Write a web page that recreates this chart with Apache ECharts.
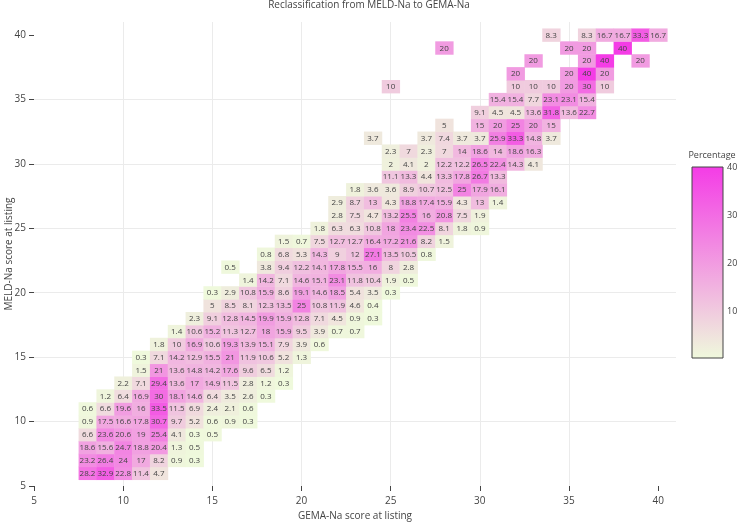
<!DOCTYPE html>
<html>
<head>
<meta charset="utf-8">
<script src="https://cdn.jsdelivr.net/npm/echarts@6/dist/echarts.min.js"></script>
<style>html,body{margin:0;padding:0;background:#fff}#c{width:738px;height:522px}</style>
</head>
<body>
<div id="c"></div>
<script>
// MELD-Na score at listing (rows)
const meldLevels = [6,7,8,9,10,11,12,13,14,15,16,17,18,19,20,21,22,23,24,25,26,27,28,29,30,31,32,33,34,35,36,37,38,39,40];
// GEMA-Na score of the first cell in each row
const firstGema = [8,8,8,8,8,8,9,10,11,11,12,13,14,15,15,17,16,18,19,21,22,22,23,25,25,25,24,28,30,31,25,32,33,28,34];
// Percentages, consecutive GEMA-Na scores from firstGema (null = empty cell)
const pctRows = [
  [28.2,32.9,22.8,11.4,4.7],
  [23.2,26.4,24,17,8.2,0.9,0.3],
  [18.6,15.6,24.7,18.8,20.4,1.3,0.5],
  [6.6,23.6,20.6,19,25.4,4.1,0.3,0.5],
  [0.9,17.5,16.6,17.8,30.7,9.7,5.2,0.6,0.9,0.3],
  [0.6,6.6,19.6,16,33.5,11.5,6.9,2.4,2.1,0.6],
  [1.2,6.4,16.9,30,18.1,14.6,6.4,3.5,2.6,0.3],
  [2.2,7.1,29.4,13.6,17,14.9,11.5,2.8,1.2,0.3],
  [1.5,21,13.6,14.8,14.2,17.6,9.6,6.5,1.2],
  [0.3,7.1,14.2,12.9,15.5,21,11.9,10.6,5.2,1.3],
  [1.8,10,16.9,10.6,19.3,13.9,15.1,7.9,3.9,0.6],
  [1.4,10.6,15.2,11.3,12.7,18,15.9,9.5,3.9,0.7,0.7],
  [2.3,9.1,12.8,14.5,19.9,15.9,12.8,7.1,4.5,0.9,0.3],
  [5,8.5,8.1,12.3,13.5,25,10.8,11.9,4.6,0.4],
  [0.3,2.9,10.8,15.9,8.6,19.1,14.6,18.5,5.4,3.5,0.3],
  [1.4,14.2,7.1,14.6,15.1,23.1,11.8,10.4,1.9,0.5],
  [0.5,null,3.8,9.4,12.2,14.1,17.8,15.5,16,8,2.8],
  [0.8,6.8,5.3,14.3,9,12,27.1,13.5,10.5,0.8],
  [1.5,0.7,7.5,12.7,12.7,16.4,17.2,21.6,8.2,1.5],
  [1.8,6.3,6.3,10.8,18,23.4,22.5,8.1,1.8,0.9],
  [2.8,7.5,4.7,13.2,25.5,16,20.8,7.5,1.9],
  [2.9,8.7,13,4.3,18.8,17.4,15.9,4.3,13,1.4],
  [1.8,3.6,3.6,8.9,10.7,12.5,25,17.9,16.1],
  [11.1,13.3,4.4,13.3,17.8,26.7,13.3],
  [2,4.1,2,12.2,12.2,26.5,22.4,14.3,4.1],
  [2.3,7,2.3,7,14,18.6,14,18.6,16.3],
  [3.7,null,null,3.7,7.4,3.7,3.7,25.9,33.3,14.8,3.7],
  [5,null,15,20,25,20,15],
  [9.1,4.5,4.5,13.6,31.8,13.6,22.7],
  [15.4,15.4,7.7,23.1,23.1,15.4],
  [10,null,null,null,null,null,null,10,10,10,20,30,10],
  [20,null,null,20,40,20],
  [20,null,null,20,40,null,20],
  [20,null,null,null,null,null,null,20,20,null,40],
  [8.3,null,8.3,16.7,16.7,33.3,16.7]
];
const axisTicks = [5,10,15,20,25,30,35,40];
const colorbarTicks = [10,20,30,40];
const lowColor = '#eff9dc';
const highColor = '#f43ce6';

const cells = [];
meldLevels.forEach((m, i) => {
  pctRows[i].forEach((v, j) => {
    if (v !== null) cells.push([firstGema[i] + j, m, v]);
  });
});
let minV = Infinity; cells.forEach(c => { if (c[2] < minV) minV = c[2]; });

const FONT = '"Open Sans", sans-serif';
const chart = echarts.init(document.getElementById('c'));
chart.setOption({
  animation: false,
  textStyle: { fontFamily: FONT },
  title: [
    { text: 'Reclassification from MELD-Na to GEMA-Na', left: 'center', top: 0, padding: 0,
      textStyle: { fontSize: 10, fontWeight: 'normal', color: '#444', fontFamily: FONT } },
    { text: 'Percentage', left: 712, textAlign: 'center', top: 151, padding: 0,
      textStyle: { fontSize: 9, fontWeight: 'normal', color: '#444', fontFamily: FONT } }
  ],
  grid: [
    { left: 34, right: 62, top: 22, bottom: 36, containLabel: false, outerBoundsMode: 'none' },
    { left: 692, top: 167, width: 31, height: 191, containLabel: false, outerBoundsMode: 'none' }
  ],
  visualMap: {
    type: 'continuous', show: false, seriesIndex: 0, dimension: 2,
    min: minV, max: 40, inRange: { color: [lowColor, highColor] }
  },
  xAxis: [
    { type: 'value', min: 5, max: 41, gridIndex: 0,
      name: 'GEMA-Na score at listing', nameLocation: 'middle', nameGap: 23,
      nameTextStyle: { fontSize: 10, color: '#444', fontFamily: FONT },
      axisLine: { show: false },
      axisTick: { show: true, length: 5, customValues: axisTicks, lineStyle: { color: '#444' } },
      axisLabel: { customValues: axisTicks, fontSize: 10, color: '#444', margin: 10, fontFamily: FONT },
      splitLine: { show: true, showMinLine: false, showMaxLine: false, lineStyle: { color: '#ebebeb' } } },
    { type: 'value', min: 0, max: 1, gridIndex: 1, show: false }
  ],
  yAxis: [
    { type: 'value', min: 5, max: 41, gridIndex: 0,
      name: 'MELD-Na score at listing', nameLocation: 'middle', nameGap: 20, nameMoveOverlap: false,
      nameTextStyle: { fontSize: 10, color: '#444', fontFamily: FONT },
      axisLine: { show: false },
      axisTick: { show: true, length: 5, customValues: axisTicks, lineStyle: { color: '#444' } },
      axisLabel: { customValues: axisTicks, fontSize: 10, color: '#444', margin: 8, fontFamily: FONT },
      splitLine: { show: true, showMinLine: false, showMaxLine: false, lineStyle: { color: '#ebebeb' } } },
    { type: 'value', min: minV, max: 40, gridIndex: 1, position: 'right',
      axisLine: { show: false },
      axisTick: { show: true, length: 3, customValues: colorbarTicks, lineStyle: { color: '#444' } },
      axisLabel: { customValues: colorbarTicks, fontSize: 9, color: '#444', margin: 4, fontFamily: FONT },
      splitLine: { show: false } }
  ],
  series: [
    { type: 'custom', xAxisIndex: 0, yAxisIndex: 0, data: cells,
      renderItem: function (params, api) {
        const x = api.value(0), y = api.value(1), v = api.value(2);
        const p0 = api.coord([x - 0.5, y + 0.5]);
        const p1 = api.coord([x + 0.5, y - 0.5]);
        return { type: 'group', children: [
          { type: 'rect', shape: { x: p0[0], y: p0[1], width: p1[0] - p0[0] + 0.5, height: p1[1] - p0[1] + 0.5 },
            style: { fill: api.visual('color') } },
          { type: 'text', x: (p0[0] + p1[0]) / 2, y: (p0[1] + p1[1]) / 2 + 0.5,
            style: { text: String(v), fill: '#444', font: '8px "Open Sans", sans-serif', align: 'center', verticalAlign: 'middle' } }
        ] };
      } },
    { type: 'custom', xAxisIndex: 1, yAxisIndex: 1, data: [[0, minV, 1, 40]],
      renderItem: function (params, api) {
        const a = api.coord([api.value(0), api.value(3)]);
        const b = api.coord([api.value(2), api.value(1)]);
        return { type: 'rect', shape: { x: a[0], y: a[1], width: b[0] - a[0], height: b[1] - a[1] },
          style: { fill: new echarts.graphic.LinearGradient(0, 0, 0, 1, [
            { offset: 0, color: highColor }, { offset: 1, color: lowColor }]),
            stroke: '#444', lineWidth: 1 } };
      } }
  ]
});
</script>
</body>
</html>
